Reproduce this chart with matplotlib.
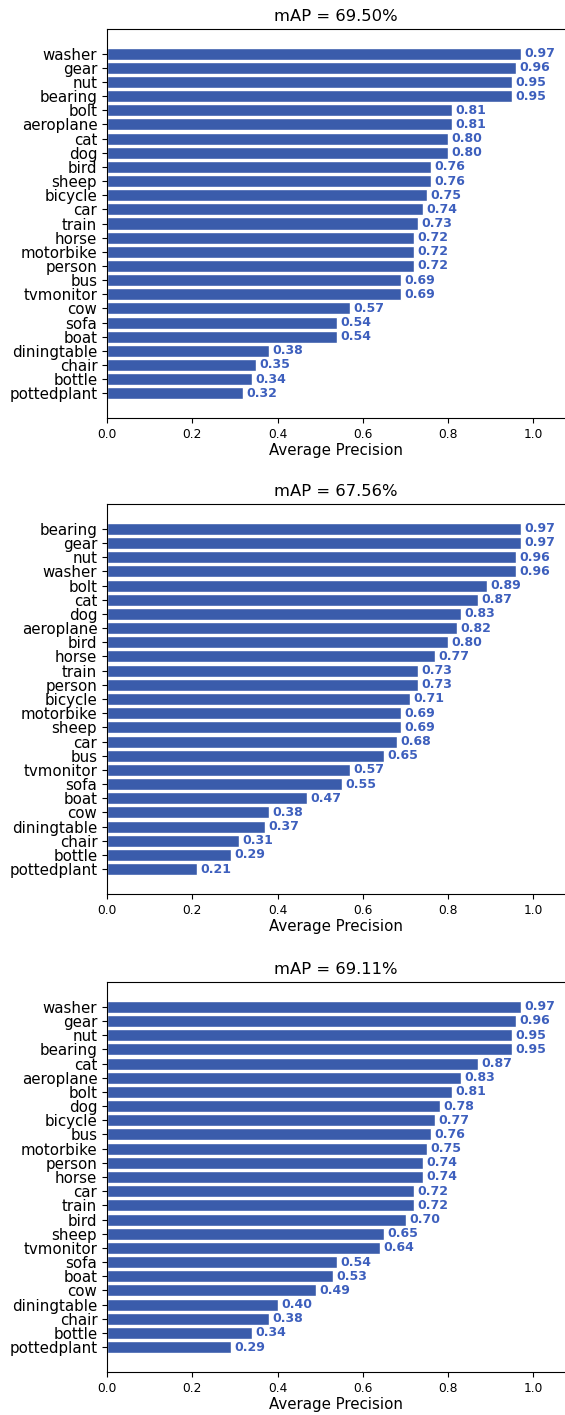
import matplotlib
matplotlib.use("Agg")
import matplotlib.pyplot as plt

titles = ["mAP = 69.50%", "mAP = 67.56%", "mAP = 69.11%"]

classes1 = ["washer", "gear", "nut", "bearing", "bolt", "aeroplane", "cat", "dog", "bird",
            "sheep", "bicycle", "car", "train", "horse", "motorbike", "person", "bus",
            "tvmonitor", "cow", "sofa", "boat", "diningtable", "chair", "bottle", "pottedplant"]
ap1 = [0.97, 0.96, 0.95, 0.95, 0.81, 0.81, 0.80, 0.80, 0.76, 0.76, 0.75, 0.74, 0.73,
       0.72, 0.72, 0.72, 0.69, 0.69, 0.57, 0.54, 0.54, 0.38, 0.35, 0.34, 0.32]

classes2 = ["bearing", "gear", "nut", "washer", "bolt", "cat", "dog", "aeroplane", "bird",
            "horse", "train", "person", "bicycle", "motorbike", "sheep", "car", "bus",
            "tvmonitor", "sofa", "boat", "cow", "diningtable", "chair", "bottle", "pottedplant"]
ap2 = [0.97, 0.97, 0.96, 0.96, 0.89, 0.87, 0.83, 0.82, 0.80, 0.77, 0.73, 0.73, 0.71,
       0.69, 0.69, 0.68, 0.65, 0.57, 0.55, 0.47, 0.38, 0.37, 0.31, 0.29, 0.21]

classes3 = ["washer", "gear", "nut", "bearing", "cat", "aeroplane", "bolt", "dog", "bicycle",
            "bus", "motorbike", "person", "horse", "car", "train", "bird", "sheep",
            "tvmonitor", "sofa", "boat", "cow", "diningtable", "chair", "bottle", "pottedplant"]
ap3 = [0.97, 0.96, 0.95, 0.95, 0.87, 0.83, 0.81, 0.78, 0.77, 0.76, 0.75, 0.74, 0.74,
       0.72, 0.72, 0.70, 0.65, 0.64, 0.54, 0.53, 0.49, 0.40, 0.38, 0.34, 0.29]

xticks = [0.0, 0.2, 0.4, 0.6, 0.8, 1.0]
xlabel = "Average Precision"

BAR = "#3a5cab"
TXT = "#3d5fbd"

W, H = 565, 1415
fig = plt.figure(figsize=(W / 100, H / 100), dpi=100)

panels = [(titles[0], classes1, ap1, 29, 418),
          (titles[1], classes2, ap2, 504, 894),
          (titles[2], classes3, ap3, 982, 1372)]

left = 107 / W
for title, cls, vals, top_px, bot_px in panels:
    ax = fig.add_axes([left, 1 - bot_px / H, 1 - left, (bot_px - top_px) / H])
    y = list(range(len(cls)))
    ax.barh(y, vals, height=0.85, color=BAR, edgecolor="white", linewidth=1)
    for yi, v in zip(y, vals):
        ax.text(v + 0.008, yi, f"{v:.2f}", va="center", ha="left",
                color=TXT, fontsize=9, fontweight="bold")
    ax.set_yticks(y)
    ax.set_yticklabels(cls, fontsize=10.8)
    ax.set_ylim(len(cls) - 1 + 1.75, -1.75)
    ax.set_xlim(0, 1.074)
    ax.set_xticks(xticks)
    ax.set_xticklabels([f"{t:.1f}" for t in xticks], fontsize=8.8)
    ax.set_xlabel(xlabel, fontsize=10.8, labelpad=2)
    ax.set_title(title, fontsize=11.8, pad=6)
    ax.spines["right"].set_visible(False)

fig.savefig("out.png", dpi=100)
